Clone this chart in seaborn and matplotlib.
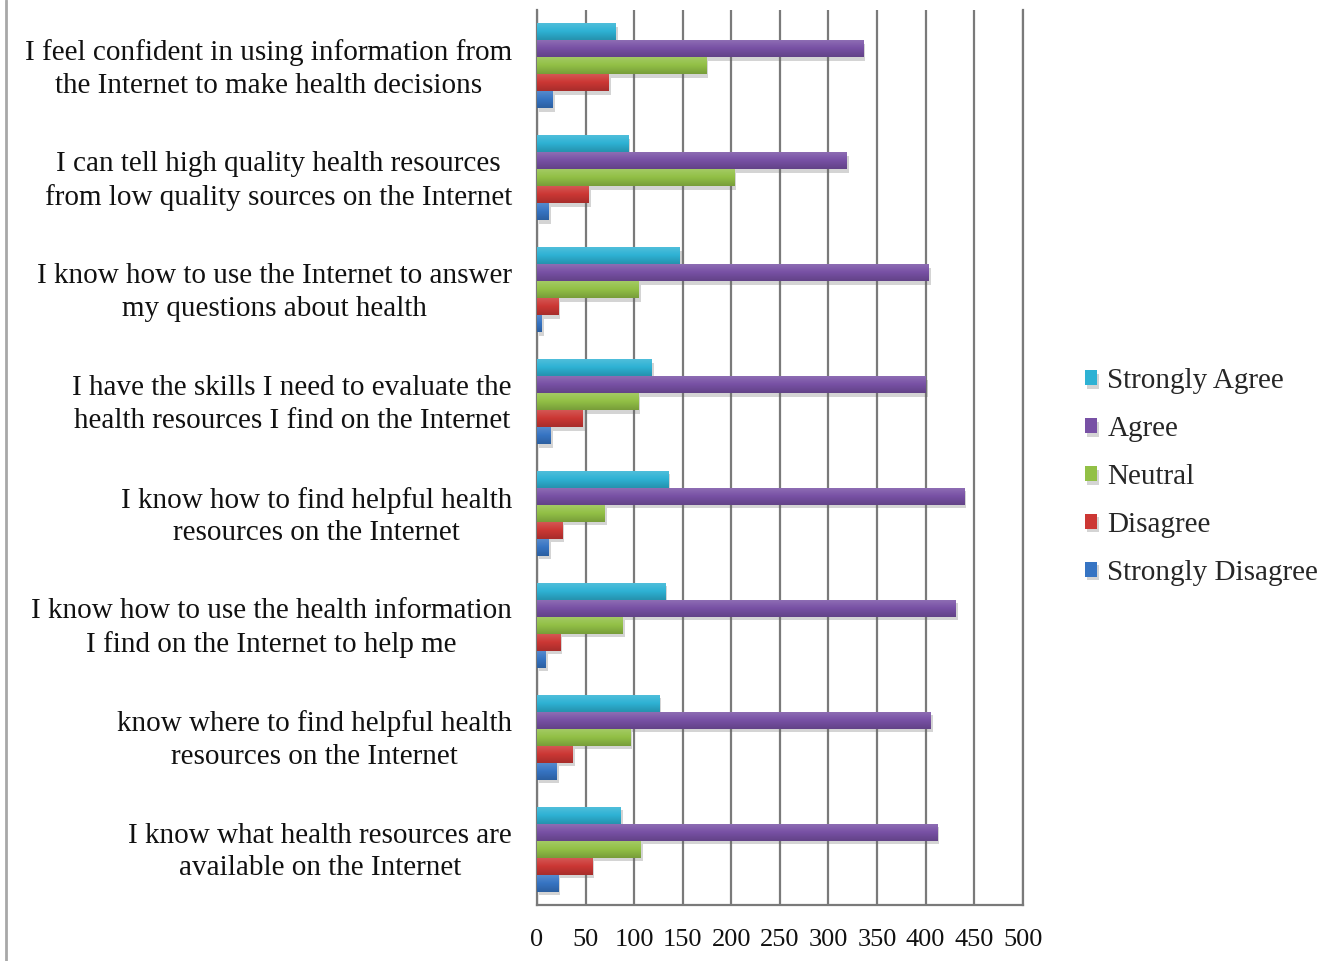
import matplotlib
matplotlib.use("Agg")
import matplotlib.pyplot as plt
import matplotlib.patheffects as pe
import matplotlib.transforms as mtransforms
from matplotlib.colors import LinearSegmentedColormap, to_rgb
from matplotlib.lines import Line2D
import numpy as np
import pandas as pd
import seaborn as sns

# Survey statements (top to bottom) and response counts per level
statements = [
    "I feel confident in using information from\nthe Internet to make health decisions",
    "I can tell high quality health resources\nfrom low quality sources on the Internet",
    "I know how to use the Internet to answer\nmy questions about health",
    "I have the skills I need to evaluate the\nhealth resources I find on the Internet",
    "I know how to find helpful health\nresources on the Internet",
    "I know how to use the health information\nI find on the Internet to help me",
    "know where to find helpful health\nresources on the Internet",
    "I know what health resources are\navailable on the Internet",
]
responses = ["Strongly Agree", "Agree", "Neutral", "Disagree", "Strongly Disagree"]

strongly_agree = [81, 94, 147, 118, 135, 132, 126, 86]
agree = [336, 319, 403, 400, 440, 431, 405, 412]
neutral = [174, 203, 105, 104, 70, 88, 96, 107]
disagree = [74, 53, 22, 47, 26, 24, 37, 57]
strongly_disagree = [16, 12, 5, 14, 12, 9, 20, 22]

colors = ["#2EB2D4", "#7851A5", "#92C046", "#CC3734", "#3674C3"]
x_ticks = [0, 50, 100, 150, 200, 250, 300, 350, 400, 450, 500]

series = [strongly_agree, agree, neutral, disagree, strongly_disagree]
rows = []
for resp, vals in zip(responses, series):
    for stmt, v in zip(statements, vals):
        rows.append({"statement": stmt, "response": resp, "count": v})
df = pd.DataFrame(rows)

sns.set_theme(style="white")
plt.rcParams["font.family"] = ["Liberation Serif", "DejaVu Serif"]

fig = plt.figure(figsize=(13.38, 9.61), dpi=100)
ax = fig.add_axes([537 / 1338, 1 - 905 / 961, (1022.7 - 537) / 1338, (905 - 10) / 961])

sns.barplot(
    data=df, y="statement", x="count", hue="response",
    order=statements, hue_order=responses, palette=colors,
    orient="h", width=0.76, saturation=1, errorbar=None, ax=ax,
)

# soft drop shadow under each bar plus a light-to-dark vertical shading
shadow = [pe.SimplePatchShadow(offset=(1.5, -2.5), shadow_rgbFace="#666666", alpha=0.28), pe.Normal()]
grad = np.linspace(0, 1, 64).reshape(-1, 1)
for patch in list(ax.patches):
    patch.set_edgecolor("none")
    patch.set_path_effects(shadow)
    patch.set_zorder(3)
    base = np.array(to_rgb(patch.get_facecolor()))
    light = base + (1 - base) * 0.18
    dark = base * 0.82
    cmap = LinearSegmentedColormap.from_list("shade", [light, base, dark])
    x0, y0 = patch.get_x(), patch.get_y()
    w, h = patch.get_width(), patch.get_height()
    if w <= 0:
        continue
    im = ax.imshow(grad, cmap=cmap, aspect="auto", interpolation="bilinear",
                   extent=(x0, x0 + w, y0 + h, y0), zorder=3.5)
    im.set_clip_path(patch)

ax.set_xlim(0, 500)
ax.set_ylim(len(statements) - 0.5, -0.5)
ax.set_xticks(x_ticks)
ax.set_xticklabels([str(t) for t in x_ticks])
ax.set_xlabel("")
ax.set_ylabel("")

ax.xaxis.grid(True, color="#7a7a7a", linewidth=1.6)
ax.yaxis.grid(False)
ax.set_axisbelow(True)
for side in ["left", "bottom", "right"]:
    ax.spines[side].set_visible(True)
    ax.spines[side].set_color("#7a7a7a")
    ax.spines[side].set_linewidth(1.6)
ax.spines["top"].set_visible(False)

ax.tick_params(axis="y", length=0, pad=18, labelsize=21, labelcolor="#111111")
ax.tick_params(axis="x", length=0, pad=17, labelsize=19, labelcolor="#111111")
nudge = mtransforms.ScaledTranslation(0, -3 / 100, fig.dpi_scale_trans)
for lbl in ax.get_yticklabels():
    lbl.set_multialignment("center")
    lbl.set_linespacing(1.32)
    lbl.set_verticalalignment("center")
    lbl.set_transform(lbl.get_transform() + nudge)

handles, labels = ax.get_legend_handles_labels()
ax.legend(
    handles, labels, loc="center left",
    bbox_to_anchor=(1085 / 1338, 1 - 477 / 961), bbox_transform=fig.transFigure,
    frameon=False, fontsize=21, handlelength=0.42, handleheight=0.42,
    handletextpad=0.35, labelspacing=0.75, borderpad=0, borderaxespad=0,
)

# thin frame line on the left edge of the figure
fig.add_artist(Line2D([6 / 1338, 6 / 1338], [0, 1], transform=fig.transFigure,
                      color="#a8a8a8", linewidth=2))

fig.savefig("out.png", dpi=100)
